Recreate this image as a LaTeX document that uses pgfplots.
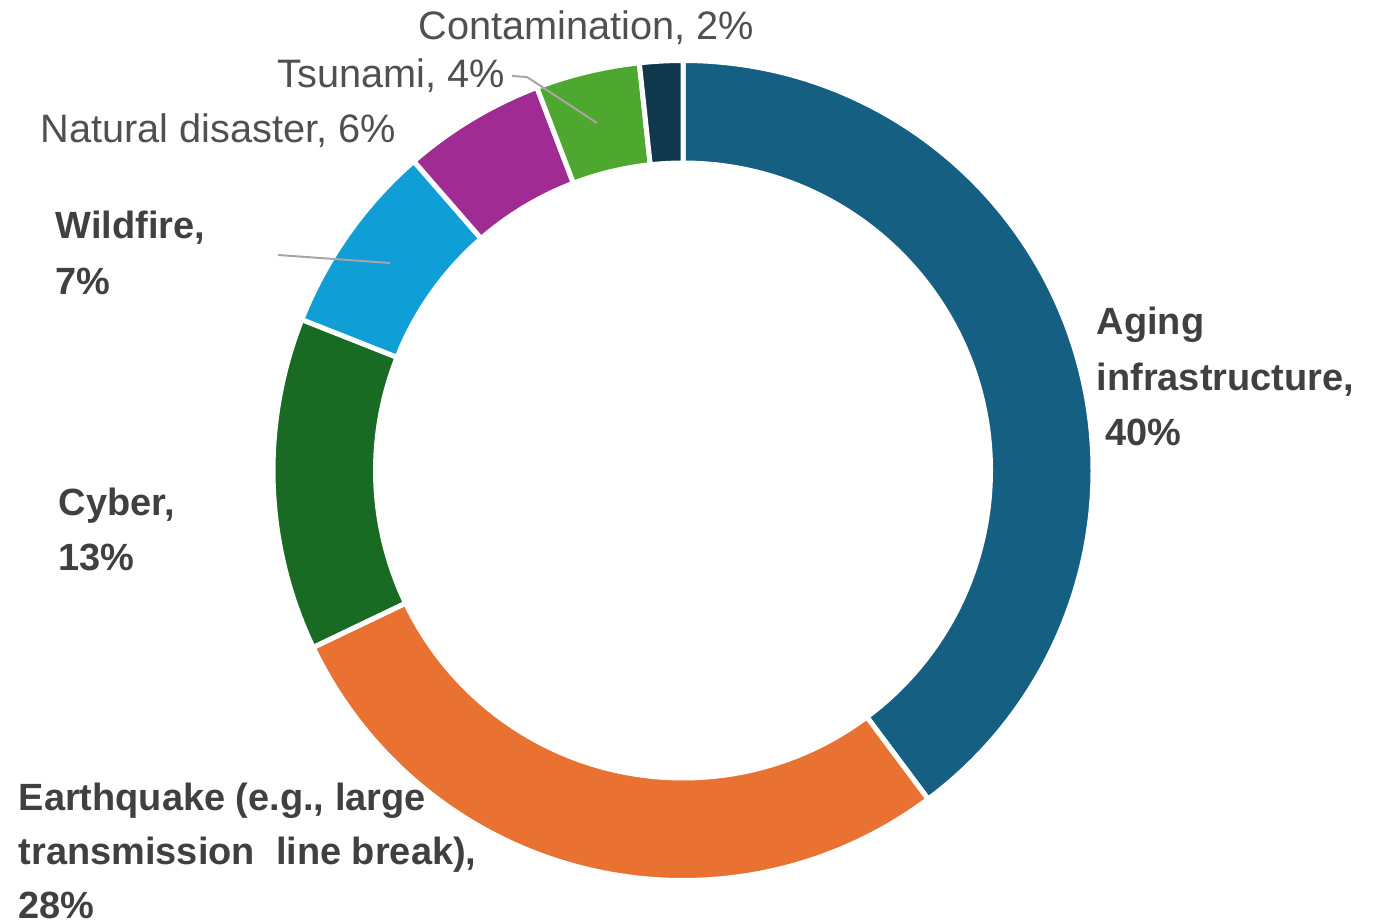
\documentclass[border=0pt]{standalone}
\usepackage{fontspec}
\setmainfont{Liberation Sans}
\usepackage{pgfplots}
\usepackage{pgfplotstable}
\pgfplotsset{compat=1.18}

\definecolor{cAging}{HTML}{156082}
\definecolor{cQuake}{HTML}{E97132}
\definecolor{cCyber}{HTML}{196B24}
\definecolor{cFire}{HTML}{0F9ED5}
\definecolor{cNatural}{HTML}{A02B93}
\definecolor{cTsunami}{HTML}{4EA72E}
\definecolor{cContam}{HTML}{10384C}
\definecolor{boldtxt}{HTML}{404040}
\definecolor{regtxt}{HTML}{505050}
\definecolor{leader}{HTML}{A6A6A6}

% share of incidents (%), clockwise from 12 o'clock
\pgfplotstableread{
share colour
39.8 cAging
28.1 cQuake
13.1 cCyber
7.6  cFire
5.6  cNatural
4.1  cTsunami
1.7  cContam
}\risks

\begin{document}
\begin{tikzpicture}[
    lbl/.style={anchor=base west, inner sep=0pt, text=boldtxt,
      font=\fontsize{10.8}{13}\selectfont\bfseries},
    rlbl/.style={anchor=base west, inner sep=0pt, text=regtxt,
      font=\fontsize{11.3}{13}\selectfont},
  ]
\begin{axis}[
    x=0.1mm, y=0.1mm,
    xmin=0, xmax=1378, ymin=0, ymax=922,
    hide axis, clip=false,
  ]
\path (axis cs:0,0) rectangle (axis cs:1378,922);

\def\angstart{90}
\pgfplotsforeachungrouped \k in {0,...,6}{%
  \pgfplotstablegetelem{\k}{share}\of\risks \let\share\pgfplotsretval
  \pgfplotstablegetelem{\k}{colour}\of\risks \let\segcol\pgfplotsretval
  \pgfmathsetmacro\angend{\angstart-3.6*\share}
  \edef\doseg{\noexpand\fill[\segcol, draw=white, line width=0.5mm]
    (axis cs:{683+410*cos(\angstart)},{451.5+410*sin(\angstart)})
    arc[start angle=\angstart, end angle=\angend, radius=41mm]
    -- (axis cs:{683+307.5*cos(\angend)},{451.5+307.5*sin(\angend)})
    arc[start angle=\angend, end angle=\angstart, radius=30.75mm] -- cycle;}
  \doseg
  \let\angstart\angend
}

% leader lines
\draw[leader, line width=0.2mm] (axis cs:278,667) -- (axis cs:390,659);
\draw[leader, line width=0.2mm] (axis cs:512,846) -- (axis cs:527,845) -- (axis cs:597,799);

% labels
\node[rlbl] at (axis cs:418,882) {Contamination, 2\%};
\node[rlbl] at (axis cs:277,834) {Tsunami, 4\%};
\node[rlbl] at (axis cs:40,779) {Natural disaster, 6\%};
\node[lbl] at (axis cs:55,684) {Wildfire,};
\node[lbl] at (axis cs:55,627) {7\%};
\node[lbl] at (axis cs:1096,587) {Aging};
\node[lbl] at (axis cs:1096,532) {infrastructure,};
\node[lbl] at (axis cs:1105,477) {40\%};
\node[lbl] at (axis cs:58,407) {Cyber,};
\node[lbl] at (axis cs:58,352) {13\%};
\node[lbl] at (axis cs:18,112) {Earthquake (e.g., large};
\node[lbl] at (axis cs:18,58) {transmission\ \ line break),};
\node[lbl] at (axis cs:18,4) {28\%};
\end{axis}
\end{tikzpicture}
\end{document}
